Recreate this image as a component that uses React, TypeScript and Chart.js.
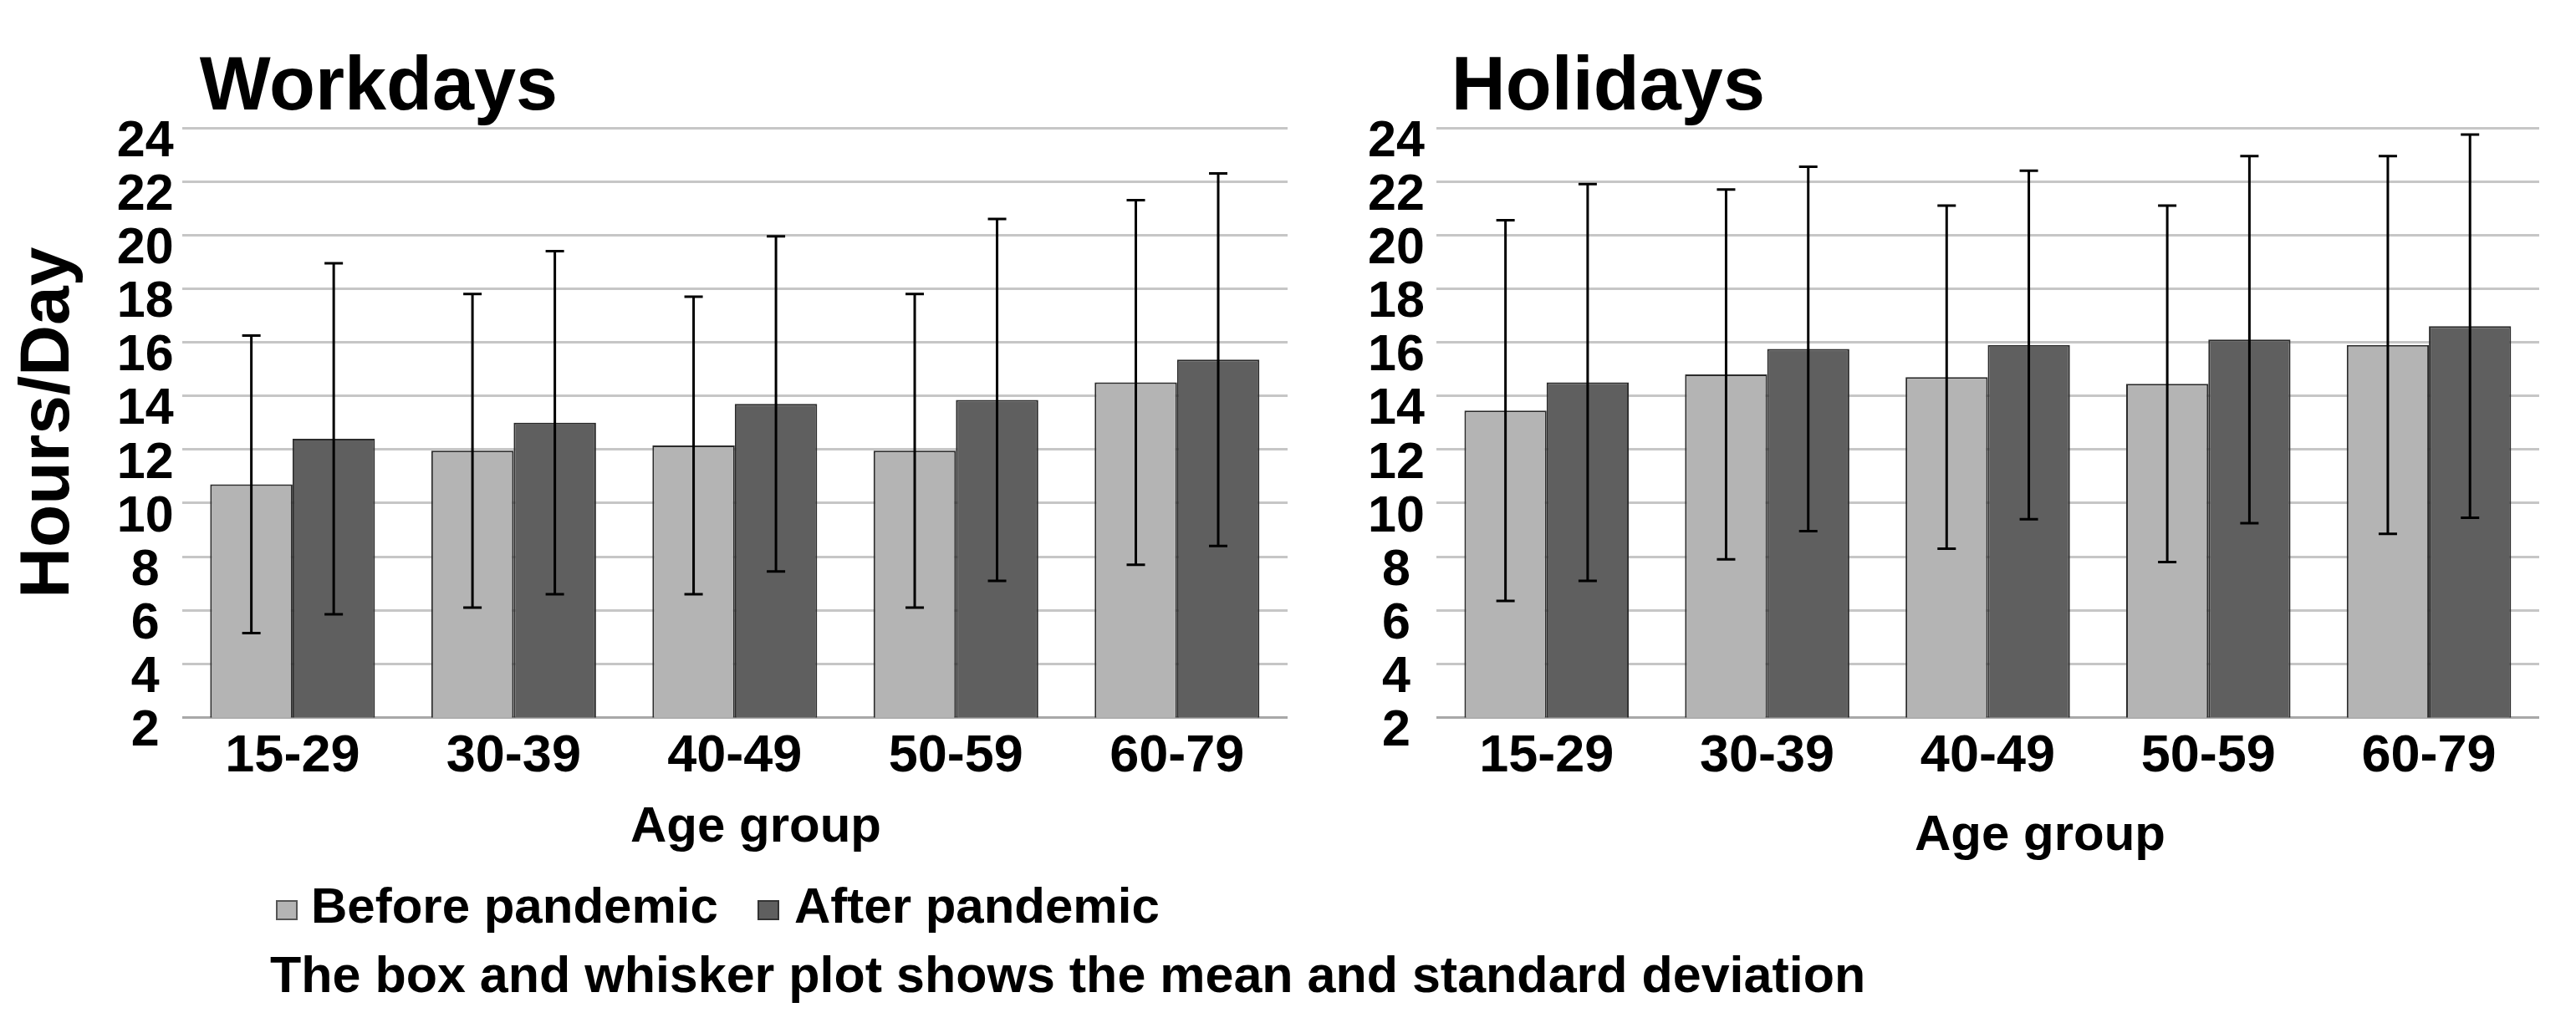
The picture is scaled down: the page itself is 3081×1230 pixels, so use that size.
import React, { useEffect, useRef } from 'react';
import { Chart, registerables } from 'chart.js';

Chart.register(...registerables);

// ---------- data ----------
const categories = ['15-29', '30-39', '40-49', '50-59', '60-79'];
const seriesNames = ['Before pandemic', 'After pandemic'];

const workdaysBefore = [10.7, 11.95, 12.15, 11.95, 14.5];
const workdaysBeforeSd = [5.55, 5.85, 5.55, 5.85, 6.8];
const workdaysAfter = [12.4, 13.0, 13.7, 13.85, 15.35];
const workdaysAfterSd = [6.55, 6.4, 6.25, 6.75, 6.95];

const holidaysBefore = [13.45, 14.8, 14.7, 14.45, 15.9];
const holidaysBeforeSd = [7.1, 6.9, 6.4, 6.65, 7.05];
const holidaysAfter = [14.5, 15.75, 15.9, 16.1, 16.6];
const holidaysAfterSd = [7.4, 6.8, 6.5, 6.85, 7.15];

const yMin = 2;
const yMax = 24;
const yStep = 2;

// ---------- styles ----------
const FONT = "'Liberation Sans', Arial, sans-serif";
const LIGHT = '#b4b4b4';
const DARK = '#5f5f5f';
const BORDER = '#2b2b2b';
const GRID = '#c6c6c6';

const errorBarPlugin = {
  id: 'errorBars',
  afterDatasetsDraw(chart: any, _args: any, opts: any) {
    const sds: number[][] = opts.sd || [];
    const ctx = chart.ctx;
    const y = chart.scales.y;
    const cap = opts.cap ?? 11;
    ctx.save();
    ctx.strokeStyle = opts.color || '#000';
    ctx.lineWidth = opts.width || 3;
    chart.data.datasets.forEach((ds: any, i: number) => {
      const meta = chart.getDatasetMeta(i);
      meta.data.forEach((bar: any, j: number) => {
        const m = ds.data[j];
        const s = (sds[i] || [])[j];
        if (s == null) return;
        const x = bar.x;
        const yt = y.getPixelForValue(m + s);
        const yb = y.getPixelForValue(m - s);
        ctx.beginPath();
        ctx.moveTo(x, yt);
        ctx.lineTo(x, yb);
        ctx.moveTo(x - cap, yt);
        ctx.lineTo(x + cap, yt);
        ctx.moveTo(x - cap, yb);
        ctx.lineTo(x + cap, yb);
        ctx.stroke();
      });
    });
    ctx.restore();
  },
};

const titleShiftPlugin = {
  id: 'titleShift',
  afterLayout(chart: any, _args: any, opts: any) {
    const t = chart.titleBlock;
    if (t && opts.dx) {
      t.left += opts.dx;
      t.right += opts.dx;
    }
  },
};

type Params = {
  title: string;
  before: number[];
  beforeSd: number[];
  after: number[];
  afterSd: number[];
  yTitle?: string;
  padding: { left: number; right: number; top: number; bottom: number };
  tickPadding: number;
  titleDx: number;
};

function makeConfig(p: Params): any {
  return {
    type: 'bar',
    data: {
      labels: categories,
      datasets: [
        {
          label: seriesNames[0],
          data: p.before,
          backgroundColor: LIGHT,
          borderColor: BORDER,
          borderWidth: 2,
          categoryPercentage: 0.745,
          barPercentage: 1,
        },
        {
          label: seriesNames[1],
          data: p.after,
          backgroundColor: DARK,
          borderColor: BORDER,
          borderWidth: 2,
          categoryPercentage: 0.745,
          barPercentage: 1,
        },
      ],
    },
    options: {
      responsive: false,
      animation: false,
      devicePixelRatio: 1,
      layout: { padding: p.padding },
      scales: {
        x: {
          grid: { display: false, drawTicks: false },
          border: { display: false },
          ticks: {
            color: '#000',
            padding: 9,
            autoSkip: false,
            maxRotation: 0,
            font: { family: FONT, size: 63, weight: 'bold', lineHeight: 1.2 },
          },
        },
        y: {
          min: yMin,
          max: yMax,
          grid: {
            drawTicks: false,
            lineWidth: 3,
            color: (c: any) => (c.tick && c.tick.value === yMin ? '#a8a8a8' : GRID),
          },
          border: { display: false },
          ticks: {
            stepSize: yStep,
            autoSkip: false,
            color: '#000',
            padding: p.tickPadding,
            crossAlign: 'center',
            labelOffset: 17,
            font: { family: FONT, size: 61, weight: 'bold', lineHeight: 1.0 },
          },
          title: {
            display: !!p.yTitle,
            text: p.yTitle || '',
            color: '#000',
            padding: { top: 8, bottom: 21 },
            font: { family: FONT, size: 84, weight: 'bold', lineHeight: 1.2 },
          },
        },
      },
      plugins: {
        legend: { display: false },
        tooltip: { enabled: false },
        title: {
          display: true,
          text: p.title,
          align: 'start',
          fullSize: false,
          color: '#000',
          padding: { top: 0, bottom: 2 },
          font: { family: FONT, size: 90, weight: 'bold', lineHeight: 1 },
        },
        errorBars: { sd: [p.beforeSd, p.afterSd], color: '#000', width: 3, cap: 11 },
        titleShift: { dx: p.titleDx },
      },
    },
    plugins: [errorBarPlugin, titleShiftPlugin],
  };
}

function ChartCanvas(props: { params: Params; left: number; width: number; height: number }) {
  const ref = useRef<HTMLCanvasElement | null>(null);
  useEffect(() => {
    if (!ref.current) return;
    const chart = new Chart(ref.current, makeConfig(props.params));
    return () => chart.destroy();
  }, []);
  return (
    <canvas
      ref={ref}
      width={props.width}
      height={props.height}
      style={{ position: 'absolute', left: props.left, top: 0, width: props.width, height: props.height }}
    />
  );
}

const textBase: React.CSSProperties = {
  position: 'absolute',
  fontFamily: FONT,
  fontWeight: 'bold',
  color: '#000',
  whiteSpace: 'nowrap',
  lineHeight: 1,
};

export default function App() {
  return (
    <div
      style={{
        position: 'absolute',
        left: 0,
        top: 0,
        width: 3081,
        height: 1230,
        background: '#fff',
        overflow: 'hidden',
      }}
    >
      <ChartCanvas
        left={0}
        width={1570}
        height={960}
        params={{
          title: 'Workdays',
          before: workdaysBefore,
          beforeSd: workdaysBeforeSd,
          after: workdaysAfter,
          afterSd: workdaysAfterSd,
          yTitle: 'Hours/Day',
          padding: { left: 0, right: 30, top: 61, bottom: 8 },
          tickPadding: 10,
          titleDx: 21,
        }}
      />
      <ChartCanvas
        left={1580}
        width={1501}
        height={960}
        params={{
          title: 'Holidays',
          before: holidaysBefore,
          beforeSd: holidaysBeforeSd,
          after: holidaysAfter,
          afterSd: holidaysAfterSd,
          padding: { left: 42, right: 44, top: 61, bottom: 8 },
          tickPadding: 14,
          titleDx: 18,
        }}
      />
      <div style={{ ...textBase, fontSize: 60, left: 754, top: 957 }}>Age group</div>
      <div style={{ ...textBase, fontSize: 60, left: 2290, top: 967 }}>Age group</div>

      <div
        style={{
          position: 'absolute',
          left: 330,
          top: 1077,
          width: 22,
          height: 20,
          background: LIGHT,
          border: '2px solid #555',
        }}
      />
      <div style={{ ...textBase, fontSize: 60, left: 372, top: 1054 }}>{seriesNames[0]}</div>
      <div
        style={{
          position: 'absolute',
          left: 906,
          top: 1077,
          width: 22,
          height: 20,
          background: DARK,
          border: '2px solid #333',
        }}
      />
      <div style={{ ...textBase, fontSize: 60, left: 950, top: 1054 }}>{seriesNames[1]}</div>

      <div style={{ ...textBase, fontSize: 61, left: 323, top: 1136 }}>
        The box and whisker plot shows the mean and standard deviation
      </div>
    </div>
  );
}
